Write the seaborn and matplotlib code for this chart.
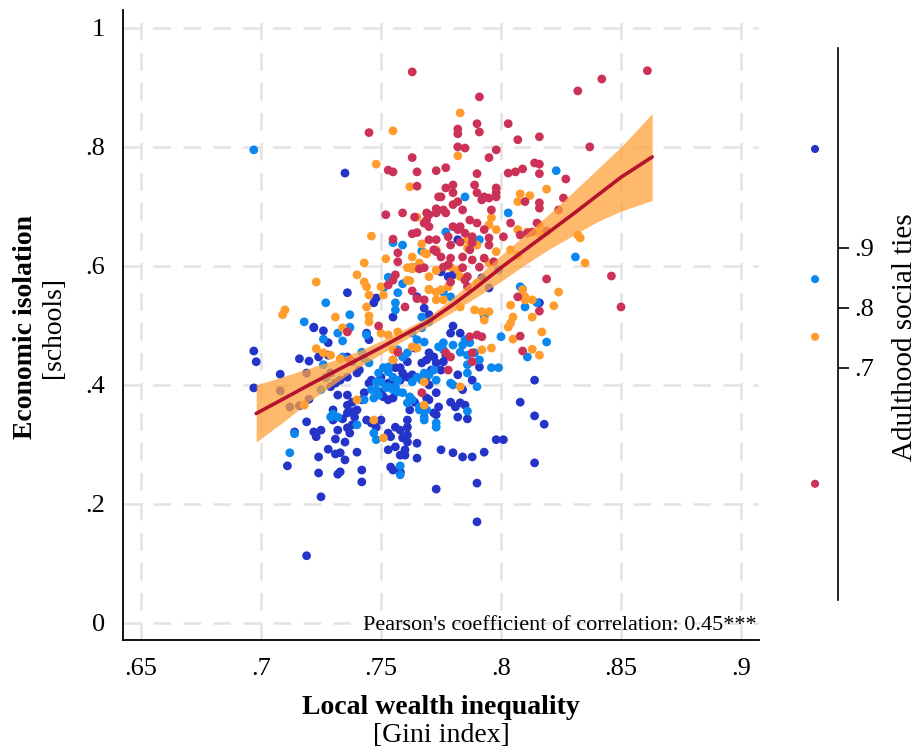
import matplotlib
matplotlib.use("Agg")
import matplotlib.pyplot as plt
import seaborn as sns
import numpy as np
import pandas as pd

# ---- values ----
# dark blue group
DB_X = [.735, .697, .698, .697, .708, .716, .720, .722, .726, .728,
        .724, .728, .719, .719, .714, .722, .723, .725, .724, .724,
        .725, .728, .731, .733, .735, .732, .733, .740, .742, .742,
        .719, .711, .731, .730, .730, .735, .732, .736, .737, .738,
        .734, .736, .738, .739, .740, .736, .738, .742, .743, .732,
        .736, .729, .745, .746, .750, .751, .753, .755, .744, .746,
        .748, .750, .753, .754, .756, .758, .759, .753, .756, .758,
        .754, .758, .761, .760, .753, .755, .750, .756, .758, .759,
        .761, .736, .738, .727, .729, .740, .741, .744, .745, .755,
        .758, .760, .765, .765, .773, .755, .758, .761, .763, .767,
        .769, .771, .773, .770, .772, .768, .762, .761, .769, .772,
        .773, .776, .777, .775, .764, .770, .779, .783, .782, .784,
        .788, .791, .770, .769, .774, .773, .764, .779, .781, .783,
        .785, .782, .786, .761, .761, .775, .780, .784, .788, .793,
        .798, .801, .808, .814, .814, .814, .818, .790, .790, .782,
        .792, .775, .778, .780, .765, .768, .770, .780, .795, .816,
        .736, .722, .748, .747, .755, .708, .712, .716, .720, .731,
        .736, .733]
DB_Y = [.756, .457, .439, .395, .418, .444, .440, .496, .491, .471,
        .447, .450, .420, .338, .321, .321, .313, .324, .279, .252,
        .212, .292, .284, .286, .274, .250, .254, .287, .257, .237,
        .113, .264, .309, .358, .341, .304, .324, .328, .319, .333,
        .343, .353, .355, .346, .358, .366, .371, .375, .387, .383,
        .383, .397, .403, .408, .388, .380, .375, .378, .341, .336,
        .329, .341, .319, .313, .329, .324, .311, .291, .296, .282,
        .262, .254, .304, .291, .403, .400, .413, .429, .408, .420,
        .413, .447, .439, .413, .420, .420, .425, .487, .476, .257,
        .252, .282, .277, .302, .225, .442, .429, .439, .417, .437,
        .413, .425, .387, .375, .353, .358, .358, .341, .442, .447,
        .437, .439, .450, .425, .462, .454, .487, .487, .417, .392,
        .408, .430, .400, .378, .363, .350, .371, .371, .363, .370,
        .366, .346, .343, .329, .316, .291, .286, .279, .279, .287,
        .308, .308, .371, .408, .348, .269, .334, .235, .170, .644,
        .580, .590, .582, .585, .548, .529, .518, .499, .563, .538,
        .555, .497, .546, .538, .514, .390, .363, .365, .376, .403,
        .413, .408]

# light blue group
LB_X = [.697, .823, .755, .759, .767, .765, .753, .759, .751, .757,
        .756, .756, .727, .737, .718, .737, .785, .803, .777, .791,
        .764, .799, .808, .809, .810, .815, .793, .776, .779, .831,
        .800, .811, .819, .796, .799, .780, .790, .786, .712, .714,
        .726, .726, .732, .734, .737, .742, .744, .729, .730, .732,
        .740, .747, .746, .749, .751, .753, .748, .750, .753, .755,
        .755, .757, .756, .762, .763, .766, .768, .769, .765, .767,
        .757, .759, .761, .763, .765, .767, .768, .772, .773, .767,
        .770, .758, .747, .734, .743, .745, .753, .748, .758, .774,
        .776, .776, .780, .784, .785, .787, .783, .786, .789, .791,
        .786, .786, .768, .770, .763, .766, .768, .773, .773, .779,
        .748, .749, .752, .757, .759, .761, .743, .725, .727]
LB_Y = [.795, .760, .639, .635, .625, .598, .581, .570, .563, .555,
        .538, .526, .538, .518, .506, .497, .716, .689, .657, .644,
        .597, .593, .565, .561, .531, .538, .514, .556, .548, .615,
        .481, .447, .472, .429, .429, .400, .397, .356, .286, .318,
        .477, .434, .487, .474, .496, .455, .484, .346, .351, .346,
        .333, .378, .392, .420, .429, .422, .405, .405, .397, .392,
        .413, .408, .397, .380, .375, .363, .341, .358, .413, .408,
        .459, .447, .454, .487, .476, .496, .472, .425, .408, .514,
        .506, .264, .319, .447, .445, .437, .430, .308, .249, .464,
        .471, .459, .467, .467, .476, .471, .455, .450, .454, .442,
        .434, .420, .420, .417, .405, .358, .346, .336, .329, .403,
        .392, .383, .395, .388, .387, .370, .375, .392, .412]

# orange group
OR_X = [.755, .748, .762, .768, .765, .746, .767, .773, .769, .752,
        .763, .743, .763, .773, .740, .723, .743, .744, .745, .762,
        .750, .751, .770, .773, .744, .710, .709, .731, .734, .745,
        .745, .761, .761, .783, .782, .819, .808, .812, .807, .816,
        .819, .816, .832, .833, .835, .824, .809, .810, .822, .796,
        .795, .798, .807, .811, .804, .807, .798, .795, .786, .786,
        .790, .763, .766, .768, .773, .779, .782, .770, .783, .790,
        .770, .775, .778, .773, .776, .783, .789, .804, .810, .813,
        .805, .804, .795, .793, .792, .813, .816, .817, .805, .803,
        .813, .723, .726, .729, .733, .718, .740, .747, .751, .750,
        .753, .757, .755, .755, .765, .763, .792, .796, .768, .783,
        .768]
OR_Y = [.827, .771, .733, .672, .682, .650, .637, .627, .620, .612,
        .615, .605, .595, .592, .585, .573, .573, .565, .551, .575,
        .565, .551, .561, .556, .531, .526, .518, .514, .496, .516,
        .506, .597, .576, .857, .785, .729, .721, .718, .708, .669,
        .657, .655, .652, .647, .605, .556, .560, .543, .533, .681,
        .669, .661, .661, .657, .627, .618, .624, .605, .644, .630,
        .635, .598, .605, .622, .593, .598, .593, .582, .582, .571,
        .560, .560, .565, .543, .543, .531, .526, .534, .548, .543,
        .514, .504, .523, .509, .523, .460, .450, .489, .477, .497,
        .514, .461, .454, .450, .444, .366, .375, .341, .311, .487,
        .484, .489, .442, .459, .462, .464, .459, .462, .405, .397,
        .366]

# red group
RD_X = [.763, .745, .763, .753, .755, .765, .773, .765, .774, .773,
        .752, .759, .770, .769, .770, .763, .765, .770, .773, .755,
        .757, .757, .766, .768, .756, .755, .753, .763, .765, .768,
        .760, .749, .791, .790, .791, .803, .782, .782, .807, .816,
        .782, .785, .798, .795, .832, .842, .861, .837, .814, .816,
        .809, .806, .803, .816, .777, .790, .827, .789, .780, .777,
        .798, .798, .793, .810, .816, .816, .826, .824, .777, .819,
        .846, .819, .850, .790, .775, .780, .782, .798, .792, .795,
        .796, .780, .784, .764, .769, .773, .776, .768, .780, .783,
        .787, .790, .804, .782, .785, .788, .788, .793, .795, .795,
        .778, .779, .783, .801, .808, .811, .813, .815, .772, .773,
        .775, .779, .784, .787, .788, .793, .797, .776, .778, .784,
        .786, .791, .779, .785, .786, .807, .808, .809, .816, .737,
        .787, .790, .792, .779, .777, .788, .788, .767, .778, .736,
        .757]
RD_Y = [.926, .824, .782, .761, .758, .758, .760, .734, .716, .696,
        .686, .689, .686, .677, .666, .654, .656, .644, .644, .645,
        .622, .607, .595, .597, .585, .576, .568, .558, .545, .543,
        .531, .499, .884, .839, .825, .839, .830, .822, .812, .817,
        .800, .798, .795, .782, .894, .914, .928, .800, .773, .771,
        .763, .758, .756, .755, .765, .755, .746, .736, .736, .731,
        .723, .716, .716, .708, .706, .697, .714, .694, .689, .659,
        .583, .578, .531, .723, .716, .723, .708, .731, .711, .714,
        .694, .703, .694, .682, .689, .689, .694, .672, .666, .666,
        .677, .672, .672, .661, .655, .649, .639, .661, .647, .635,
        .649, .635, .640, .649, .652, .655, .657, .672, .627, .624,
        .615, .613, .615, .627, .610, .613, .607, .598, .602, .597,
        .582, .598, .573, .576, .565, .548, .482, .457, .524, .442,
        .481, .484, .481, .447, .454, .439, .454, .387, .425, .489,
        .455]

GROUPS = ["g1", "g2", "g3", "g4"]
PALETTE = {"g1": "#2434c8", "g2": "#0b88ef", "g3": "#ff9c2c", "g4": "#cc3258"}

# adulthood social ties marker for each group (right-hand scale)
TIES = [1.065, 0.848, 0.752, 0.507]
TIE_TICKS = [0.7, 0.8, 0.9]

# fitted curve with confidence band
FIT_X = [.698, .71, .72, .73, .74, .75, .76, .77, .78, .79, .80, .81, .82, .83, .84, .85, .863]
FIT_Y = [.352, .378, .400, .421, .442, .463, .485, .507, .535, .565, .597, .627, .657, .687, .718, .749, .783]
FIT_LO = [.304, .340, .372, .400, .428, .452, .476, .499, .523, .548, .574, .602, .628, .651, .674, .692, .710]
FIT_HI = [.400, .415, .428, .441, .456, .474, .494, .515, .547, .582, .618, .652, .687, .724, .762, .800, .856]

X_TICKS = [.65, .7, .75, .8, .85, .9]
X_LABELS = [".65", ".7", ".75", ".8", ".85", ".9"]
Y_TICKS = [0, .2, .4, .6, .8, 1]
Y_LABELS = ["0", ".2", ".4", ".6", ".8", "1"]

df = pd.concat([
    pd.DataFrame({"gini": DB_X, "iso": DB_Y, "grp": "g1"}),
    pd.DataFrame({"gini": LB_X, "iso": LB_Y, "grp": "g2"}),
    pd.DataFrame({"gini": OR_X, "iso": OR_Y, "grp": "g3"}),
    pd.DataFrame({"gini": RD_X, "iso": RD_Y, "grp": "g4"}),
], ignore_index=True)

sns.set_style("white")
plt.rcParams["font.family"] = ["Liberation Serif", "DejaVu Serif"]
plt.rcParams["text.color"] = "black"
plt.rcParams["xtick.color"] = "black"
plt.rcParams["ytick.color"] = "black"
plt.rcParams["axes.labelcolor"] = "black"

fig = plt.figure(figsize=(9.19, 7.49), dpi=100)
ax = fig.add_axes([123 / 919, 109 / 749, 636 / 919, 630 / 749])

sns.scatterplot(data=df, x="gini", y="iso", hue="grp", hue_order=GROUPS,
                palette=PALETTE, s=40, linewidth=0, legend=False, ax=ax, zorder=2)
ax.fill_between(FIT_X, FIT_LO, FIT_HI, color="#ffa23c", alpha=0.75, lw=0, zorder=3)
sns.lineplot(x=FIT_X, y=FIT_Y, color="#b5122f", lw=2.6, ax=ax, zorder=4)

ax.set_xlim(.6425, .9075)
ax.set_ylim(-0.0286, 1.030)
ax.set_xticks(X_TICKS, X_LABELS)
ax.set_yticks(Y_TICKS, Y_LABELS)
ax.tick_params(direction="out", length=7, width=1.3, labelsize=19, pad=6,
               colors="black", labelcolor="black")
ax.grid(True, color="#e3e3e3", linestyle=(0, (7, 5)), linewidth=1.8)
ax.set_axisbelow(True)
for side in ["top", "right"]:
    ax.spines[side].set_visible(False)
for side in ["left", "bottom"]:
    ax.spines[side].set_color("black")
    ax.spines[side].set_linewidth(1.3)
ax.set_xlabel("")
ax.set_ylabel("")

ax.text(.9067, -0.004, "Pearson's coefficient of correlation: 0.45***",
        ha="right", va="center", fontsize=16)

# axis titles
fig.text(441 / 919, 1 - 707 / 749, "Local wealth inequality", ha="center", va="center",
         fontsize=20, fontweight="bold")
fig.text(441 / 919, 1 - 736 / 749, "[Gini index]", ha="center", va="center", fontsize=20)
fig.text(26 / 919, 1 - 327 / 749, "Economic isolation", ha="center", va="center",
         rotation=90, fontsize=20, fontweight="bold")
fig.text(53 / 919, 1 - 327 / 749, "[schools]", ha="center", va="center",
         rotation=90, fontsize=20)

# right-hand scale with the group markers
ax2 = fig.add_axes([770 / 919, 149 / 749, 68 / 919, 552 / 749])
sns.scatterplot(x=[0, 0, 0, 0], y=TIES, hue=GROUPS, hue_order=GROUPS, palette=PALETTE,
                s=34, linewidth=0, legend=False, ax=ax2)
ax2.set_xlim(-1, 0.51)
ax2.set_ylim(0.3133, 1.2333)
ax2.set_xticks([])
ax2.yaxis.tick_right()
ax2.set_yticks(TIE_TICKS, [".7", ".8", ".9"])
ax2.tick_params(axis="y", direction="out", length=8, width=1.2, labelsize=19, pad=4,
                colors="black", labelcolor="black")
for side in ["top", "left", "bottom"]:
    ax2.spines[side].set_visible(False)
ax2.spines["right"].set_color("black")
ax2.spines["right"].set_linewidth(1.2)
ax2.set_facecolor("none")
ax2.set_xlabel("")
ax2.set_ylabel("")
fig.text(905 / 919, 1 - 337 / 749, "Adulthood social ties", ha="center", va="center",
         rotation=90, fontsize=21)

fig.savefig("out.png", dpi=100)
